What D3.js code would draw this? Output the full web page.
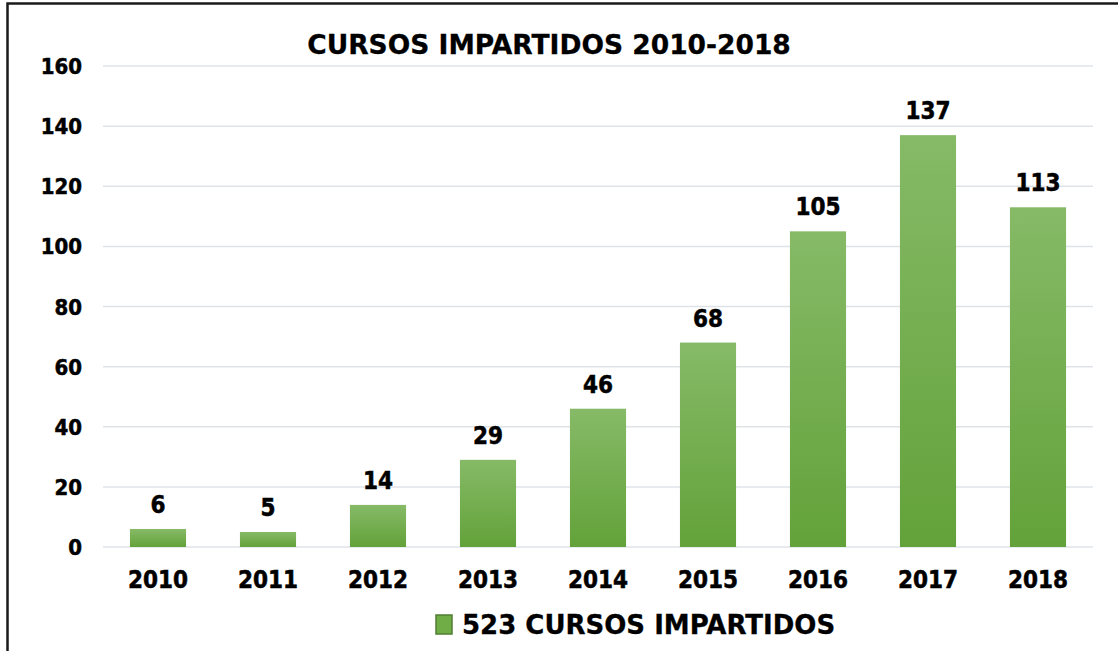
<!DOCTYPE html>
<html>
<head>
<meta charset="utf-8">
<script src="https://cdn.jsdelivr.net/npm/d3@7"></script>
<style>
  body { margin: 0; background: #fff; }
  svg text { font-family: "DejaVu Sans Condensed", "DejaVu Sans", sans-serif; font-stretch: condensed; font-weight: bold; fill: #000; stroke: #000; stroke-width: 0.5px; }
  svg text.wide { font-family: "DejaVu Sans", sans-serif; font-stretch: normal; stroke-width: 0.3px; }
</style>
</head>
<body>
<div id="container"></div>
<script>
const years = ["2010", "2011", "2012", "2013", "2014", "2015", "2016", "2017", "2018"];
const courses = [6, 5, 14, 29, 46, 68, 105, 137, 113];
const yTicks = [0, 20, 40, 60, 80, 100, 120, 140, 160];
const title = "CURSOS IMPARTIDOS 2010-2018";
const legendLabel = "523 CURSOS IMPARTIDOS";

const W = 1118, H = 651;
const svg = d3.select("#container").append("svg").attr("width", W).attr("height", H);

// frame
svg.append("rect").attr("x", 7.5).attr("y", 3.5).attr("width", W).attr("height", H)
  .attr("fill", "none").attr("stroke", "#1a1a1a").attr("stroke-width", 2.5);

const x = d3.scaleBand().domain(years).range([103, 1093]).paddingInner(0.49).paddingOuter(0.245);
const y = d3.scaleLinear().domain([0, 160]).range([547, 66]);

const defs = svg.append("defs");
const grad = defs.append("linearGradient").attr("id", "barGrad")
  .attr("x1", 0).attr("y1", 0).attr("x2", 0).attr("y2", 1);
grad.append("stop").attr("offset", "0%").attr("stop-color", "#86ba67");
grad.append("stop").attr("offset", "100%").attr("stop-color", "#63a23a");

// gridlines
svg.append("g").selectAll("line").data(yTicks).enter().append("line")
  .attr("x1", 103).attr("x2", 1093)
  .attr("y1", d => y(d)).attr("y2", d => y(d))
  .attr("stroke", "#dfe3e8").attr("stroke-width", 1.5);

// y labels
svg.append("g").selectAll("text").data(yTicks).enter().append("text")
  .attr("x", 82).attr("y", d => y(d) + 8)
  .attr("text-anchor", "end").style("font-size", "22px")
  .text(d => d);

// bars
svg.append("g").selectAll("rect").data(courses).enter().append("rect")
  .attr("x", (d, i) => x(years[i]))
  .attr("y", d => y(d))
  .attr("width", x.bandwidth())
  .attr("height", d => y(0) - y(d))
  .attr("fill", "url(#barGrad)");

// value labels
svg.append("g").selectAll("text").data(courses).enter().append("text")
  .attr("x", (d, i) => x(years[i]) + x.bandwidth() / 2)
  .attr("y", d => y(d) - 16)
  .attr("text-anchor", "middle").style("font-size", "24px")
  .text(d => d);

// x labels
svg.append("g").selectAll("text").data(years).enter().append("text")
  .attr("x", d => x(d) + x.bandwidth() / 2)
  .attr("y", 588)
  .attr("text-anchor", "middle").style("font-size", "24px")
  .text(d => d);

// title
svg.append("text").attr("class", "wide").attr("x", 549).attr("y", 54)
  .attr("text-anchor", "middle").style("font-size", "26.5px")
  .text(title);

// legend
svg.append("rect").attr("x", 436).attr("y", 615).attr("width", 16).attr("height", 19)
  .attr("fill", "#70ad47").attr("stroke", "#507e32").attr("stroke-width", 1.5);
svg.append("text").attr("class", "wide").attr("x", 462).attr("y", 634)
  .style("font-size", "26px")
  .text(legendLabel);
</script>
</body>
</html>
